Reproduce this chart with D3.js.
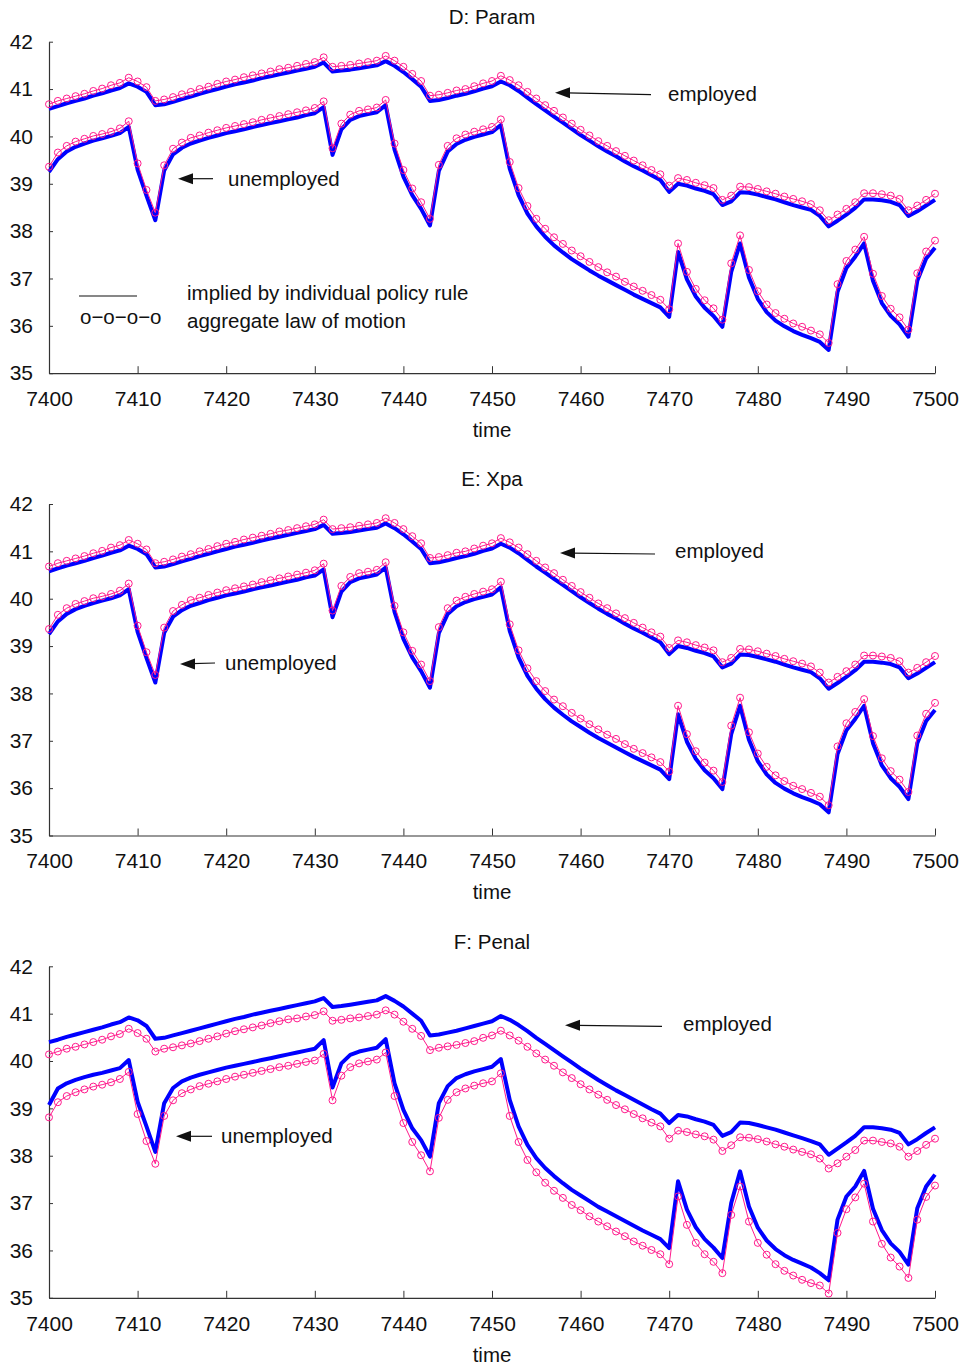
<!DOCTYPE html>
<html>
<head>
  <meta charset="utf-8">
  <title>Employed / unemployed: individual rule vs aggregate law of motion</title>
  <script src="https://d3js.org/d3.v7.min.js"></script>
  <style>
    body { margin: 0; background: #fff; }
    text { font-family: "Liberation Sans", Arial, sans-serif; fill: #111; }
    .axis path, .axis line { stroke: #333; }
  </style>
</head>
<body>
<svg id="chart"></svg>
<script>
// time axis and ticks
const time = d3.range(7400, 7501);
const xTicks = [7400, 7410, 7420, 7430, 7440, 7450, 7460, 7470, 7480, 7490, 7500];
const yTicks = [35, 36, 37, 38, 39, 40, 41, 42];

// D: Param (E: Xpa is practically the same picture)
const paramEmpAgg = [
  40.68, 40.75, 40.80, 40.85, 40.90, 40.96, 41.01, 41.08, 41.13, 41.24,
  41.16, 41.04, 40.75, 40.78, 40.83, 40.89, 40.94, 41.00, 41.05, 41.11,
  41.16, 41.20, 41.25, 41.29, 41.33, 41.37, 41.42, 41.45, 41.49, 41.53,
  41.57, 41.67, 41.47, 41.49, 41.51, 41.54, 41.57, 41.60, 41.70, 41.60,
  41.47, 41.32, 41.17, 40.86, 40.88, 40.92, 40.97, 41.00, 41.06, 41.12,
  41.17, 41.28, 41.19, 41.08, 40.94, 40.80, 40.66, 40.54, 40.40, 40.27,
  40.14, 40.02, 39.90, 39.80, 39.69, 39.59, 39.49, 39.39, 39.29, 39.20,
  38.96, 39.12, 39.08, 39.02, 38.97, 38.91, 38.66, 38.75, 38.94, 38.93,
  38.89, 38.84, 38.79, 38.73, 38.68, 38.63, 38.57, 38.44, 38.23, 38.35,
  38.47, 38.61, 38.80, 38.80, 38.78, 38.75, 38.68, 38.44, 38.54, 38.66,
  38.79
];
const paramEmpInd = [
  40.58, 40.64, 40.70, 40.75, 40.80, 40.86, 40.91, 40.97, 41.02, 41.12,
  41.05, 40.94, 40.66, 40.68, 40.73, 40.79, 40.84, 40.90, 40.95, 41.00,
  41.05, 41.10, 41.14, 41.18, 41.23, 41.27, 41.31, 41.35, 41.39, 41.43,
  41.47, 41.56, 41.37, 41.39, 41.41, 41.44, 41.47, 41.50, 41.59, 41.49,
  41.36, 41.21, 41.05, 40.75, 40.77, 40.81, 40.86, 40.90, 40.95, 41.01,
  41.06, 41.16, 41.08, 40.96, 40.82, 40.68, 40.55, 40.42, 40.29, 40.16,
  40.03, 39.91, 39.79, 39.68, 39.58, 39.47, 39.37, 39.28, 39.18, 39.08,
  38.83, 39.00, 38.96, 38.90, 38.85, 38.78, 38.55, 38.63, 38.82, 38.81,
  38.77, 38.72, 38.67, 38.61, 38.55, 38.50, 38.45, 38.32, 38.10, 38.22,
  38.35, 38.49, 38.67, 38.67, 38.65, 38.62, 38.55, 38.32, 38.42, 38.54,
  38.66
];
const paramUnAgg = [
  39.36, 39.66, 39.80, 39.89, 39.95, 40.01, 40.05, 40.10, 40.17, 40.32,
  39.43, 38.87, 38.39, 39.39, 39.74, 39.87, 39.97, 40.02, 40.08, 40.13,
  40.18, 40.22, 40.26, 40.30, 40.35, 40.39, 40.43, 40.47, 40.51, 40.55,
  40.60, 40.74, 39.75, 40.27, 40.46, 40.54, 40.57, 40.61, 40.77, 39.85,
  39.29, 38.90, 38.61, 38.26, 39.40, 39.80, 39.96, 40.04, 40.10, 40.15,
  40.20, 40.36, 39.46, 38.91, 38.53, 38.26, 38.05, 37.87, 37.73, 37.59,
  37.47, 37.35, 37.24, 37.13, 37.04, 36.93, 36.83, 36.74, 36.65, 36.55,
  36.35, 37.74, 37.14, 36.78, 36.54, 36.37, 36.13, 37.32, 37.91, 37.18,
  36.73, 36.45, 36.27, 36.15, 36.05, 35.98, 35.90, 35.82, 35.64, 36.88,
  37.37, 37.61, 37.88, 37.10, 36.63, 36.36, 36.18, 35.92, 37.11, 37.57,
  37.80
];
const paramUnInd = [
  39.25, 39.52, 39.68, 39.78, 39.85, 39.91, 39.96, 40.01, 40.07, 40.20,
  39.30, 38.75, 38.23, 39.28, 39.62, 39.76, 39.85, 39.91, 39.97, 40.02,
  40.07, 40.11, 40.15, 40.20, 40.24, 40.28, 40.32, 40.36, 40.40, 40.45,
  40.49, 40.62, 39.61, 40.15, 40.35, 40.43, 40.47, 40.51, 40.66, 39.72,
  39.15, 38.76, 38.47, 38.12, 39.27, 39.68, 39.84, 39.93, 39.99, 40.04,
  40.09, 40.24, 39.32, 38.76, 38.37, 38.10, 37.88, 37.70, 37.55, 37.41,
  37.29, 37.17, 37.06, 36.96, 36.86, 36.76, 36.66, 36.57, 36.48, 36.39,
  36.19, 37.56, 36.98, 36.62, 36.38, 36.21, 35.98, 37.14, 37.74, 37.02,
  36.57, 36.29, 36.11, 35.99, 35.89, 35.81, 35.74, 35.66, 35.49, 36.72,
  37.22, 37.46, 37.74, 36.95, 36.48, 36.21, 36.03, 35.77, 36.95, 37.42,
  37.65
];

// F: Penal
const penalEmpAgg = [
  40.14, 40.20, 40.26, 40.30, 40.35, 40.40, 40.45, 40.52, 40.57, 40.68,
  40.59, 40.47, 40.20, 40.26, 40.29, 40.33, 40.37, 40.42, 40.47, 40.52,
  40.58, 40.63, 40.67, 40.71, 40.75, 40.80, 40.84, 40.88, 40.90, 40.94,
  40.97, 41.05, 40.85, 40.87, 40.90, 40.92, 40.95, 40.98, 41.07, 40.98,
  40.83, 40.68, 40.53, 40.23, 40.28, 40.31, 40.34, 40.38, 40.42, 40.49,
  40.54, 40.64, 40.54, 40.43, 40.30, 40.16, 40.03, 39.90, 39.76, 39.64,
  39.51, 39.40, 39.29, 39.18, 39.07, 38.98, 38.88, 38.79, 38.70, 38.62,
  38.36, 38.53, 38.50, 38.45, 38.41, 38.34, 38.10, 38.22, 38.39, 38.38,
  38.35, 38.30, 38.24, 38.19, 38.13, 38.08, 38.03, 37.94, 37.73, 37.84,
  37.98, 38.12, 38.32, 38.32, 38.29, 38.26, 38.19, 37.98, 38.10, 38.23,
  38.36
];
const penalEmpInd = [
  40.40, 40.45, 40.51, 40.56, 40.61, 40.66, 40.71, 40.77, 40.82, 40.92,
  40.86, 40.74, 40.47, 40.49, 40.54, 40.59, 40.64, 40.69, 40.74, 40.79,
  40.84, 40.89, 40.93, 40.98, 41.02, 41.06, 41.10, 41.14, 41.18, 41.22,
  41.26, 41.33, 41.14, 41.16, 41.19, 41.22, 41.25, 41.28, 41.37, 41.27,
  41.15, 41.00, 40.85, 40.54, 40.56, 40.60, 40.64, 40.69, 40.74, 40.79,
  40.84, 40.95, 40.87, 40.76, 40.63, 40.49, 40.36, 40.23, 40.10, 39.97,
  39.84, 39.72, 39.60, 39.49, 39.38, 39.28, 39.18, 39.08, 38.98, 38.89,
  38.69, 38.86, 38.83, 38.77, 38.72, 38.65, 38.42, 38.50, 38.70, 38.69,
  38.65, 38.60, 38.55, 38.49, 38.43, 38.37, 38.31, 38.24, 38.02, 38.15,
  38.28, 38.42, 38.60, 38.60, 38.58, 38.55, 38.48, 38.24, 38.35, 38.48,
  38.60
];
const penalUnAgg = [
  38.81, 39.13, 39.26, 39.34, 39.40, 39.46, 39.50, 39.55, 39.62, 39.77,
  38.88, 38.31, 37.83, 38.84, 39.17, 39.32, 39.40, 39.47, 39.52, 39.57,
  39.62, 39.67, 39.71, 39.75, 39.79, 39.83, 39.87, 39.90, 39.94, 39.98,
  40.01, 40.15, 39.17, 39.69, 39.87, 39.95, 39.99, 40.03, 40.18, 39.26,
  38.69, 38.29, 38.01, 37.67, 38.80, 39.18, 39.34, 39.42, 39.48, 39.53,
  39.57, 39.74, 38.84, 38.29, 37.91, 37.65, 37.43, 37.26, 37.11, 36.96,
  36.85, 36.72, 36.61, 36.51, 36.40, 36.30, 36.19, 36.10, 36.01, 35.92,
  35.71, 37.14, 36.54, 36.16, 35.92, 35.76, 35.52, 36.75, 37.35, 36.61,
  36.16, 35.91, 35.71, 35.57, 35.47, 35.38, 35.31, 35.26, 35.09, 36.37,
  36.87, 37.12, 37.41, 36.61, 36.14, 35.85, 35.66, 35.42, 36.65, 37.13,
  37.37
];
const penalUnInd = [
  39.07, 39.42, 39.53, 39.60, 39.66, 39.71, 39.75, 39.80, 39.85, 40.02,
  39.14, 38.62, 38.08, 39.11, 39.43, 39.57, 39.65, 39.71, 39.76, 39.81,
  39.86, 39.90, 39.94, 39.98, 40.02, 40.06, 40.10, 40.14, 40.18, 40.22,
  40.26, 40.44, 39.44, 39.95, 40.13, 40.20, 40.24, 40.28, 40.46, 39.53,
  38.97, 38.58, 38.33, 37.98, 39.11, 39.47, 39.64, 39.72, 39.78, 39.83,
  39.88, 40.04, 39.18, 38.62, 38.23, 37.95, 37.74, 37.57, 37.42, 37.28,
  37.16, 37.04, 36.92, 36.82, 36.72, 36.62, 36.52, 36.42, 36.33, 36.24,
  36.05, 37.46, 36.86, 36.49, 36.24, 36.06, 35.84, 37.00, 37.67, 36.93,
  36.48, 36.21, 36.03, 35.90, 35.80, 35.72, 35.64, 35.52, 35.37, 36.65,
  37.14, 37.35, 37.68, 36.88, 36.43, 36.15, 35.97, 35.70, 36.89, 37.35,
  37.60
];

// panel setup (annotation offsets are pixels relative to the panel's top)
const panels = [
  {title: "D: Param", empInd: paramEmpInd, empAgg: paramEmpAgg, unInd: paramUnInd, unAgg: paramUnAgg,
   legend: true, emp: {x1: 555, y1: 51, x2: 651, y2: 53, tx: 668, ty: 52},
   un: {x1: 178, y1: 137, x2: 213, y2: 137, tx: 228, ty: 137}},
  {title: "E: Xpa", empInd: paramEmpInd, empAgg: paramEmpAgg, unInd: paramUnInd, unAgg: paramUnAgg,
   legend: false, emp: {x1: 560, y1: 49, x2: 655, y2: 50, tx: 675, ty: 47},
   un: {x1: 180, y1: 160, x2: 215, y2: 159, tx: 225, ty: 159}},
  {title: "F: Penal", empInd: penalEmpInd, empAgg: penalEmpAgg, unInd: penalUnInd, unAgg: penalUnAgg,
   legend: false, emp: {x1: 565, y1: 59, x2: 662, y2: 60, tx: 683, ty: 58},
   un: {x1: 176, y1: 170, x2: 212, y2: 170, tx: 221, ty: 170}}
];

const W = 962, H = 1365;
const left = 49, plotW = 886, plotH = 331.5, top0 = 41.7, step = 462.3;
const blue = "#0000ff", pink = "#ff1a8c";
const fs = "20.5px";

const svg = d3.select("#chart").attr("width", W).attr("height", H);
svg.append("rect").attr("width", W).attr("height", H).attr("fill", "#fff");

const x = d3.scaleLinear().domain([7400, 7500]).range([0, plotW]);
const y = d3.scaleLinear().domain([35, 42]).range([plotH, 0]);

const line = d3.line().x((d, i) => x(time[i])).y(d => y(d));

function arrow(g, a) {
  g.append("line")
    .attr("x1", a.x1 + 12).attr("y1", a.y1 + (a.y2 - a.y1) * 12 / (a.x2 - a.x1))
    .attr("x2", a.x2).attr("y2", a.y2)
    .attr("stroke", "#111").attr("stroke-width", 1.2);
  g.append("path")
    .attr("d", `M${a.x1},${a.y1}L${a.x1 + 15},${a.y1 - 5.5}L${a.x1 + 15},${a.y1 + 5.5}Z`)
    .attr("fill", "#111");
}

panels.forEach((p, k) => {
  const g = svg.append("g").attr("transform", `translate(${left},${top0 + k * step})`);

  g.append("text").attr("x", 492 - left).attr("y", -24.7).attr("dy", "0.35em")
    .attr("text-anchor", "middle").style("font-size", fs).text(p.title);

  g.append("g").attr("class", "axis")
    .call(d3.axisLeft(y).tickValues(yTicks).tickFormat(d3.format("d"))
      .tickSizeInner(-4).tickSizeOuter(0).tickPadding(16))
    .call(s => s.selectAll("text").style("font-size", "21px").attr("fill", "#111"));

  g.append("g").attr("class", "axis").attr("transform", `translate(0,${plotH})`)
    .call(d3.axisBottom(x).tickValues(xTicks).tickFormat(d3.format("d"))
      .tickSizeInner(-7).tickSizeOuter(0).tickPadding(18))
    .call(s => s.selectAll("text").style("font-size", "21px").attr("fill", "#111"));

  g.selectAll(".axis .domain").attr("stroke-width", 1.2);

  g.append("text").attr("x", x(7450)).attr("y", 388.3).attr("dy", "0.35em")
    .attr("text-anchor", "middle").style("font-size", fs).text("time");

  // individual policy rule (thick blue), then aggregate law (pink with circles)
  [p.empInd, p.unInd].forEach(s => {
    g.append("path").datum(s).attr("d", line)
      .attr("fill", "none").attr("stroke", blue).attr("stroke-width", 4)
      .attr("stroke-linejoin", "round");
  });
  [p.empAgg, p.unAgg].forEach(s => {
    g.append("path").datum(s).attr("d", line)
      .attr("fill", "none").attr("stroke", pink).attr("stroke-width", 1);
    g.append("g").selectAll("circle").data(s).join("circle")
      .attr("cx", (d, i) => x(time[i])).attr("cy", d => y(d)).attr("r", 3.5)
      .attr("fill", "none").attr("stroke", pink).attr("stroke-width", 1);
  });

  arrow(g, {x1: p.emp.x1 - left, y1: p.emp.y1, x2: p.emp.x2 - left, y2: p.emp.y2});
  g.append("text").attr("x", p.emp.tx - left).attr("y", p.emp.ty).attr("dy", "0.35em")
    .style("font-size", fs).text("employed");
  arrow(g, {x1: p.un.x1 - left, y1: p.un.y1, x2: p.un.x2 - left, y2: p.un.y2});
  g.append("text").attr("x", p.un.tx - left).attr("y", p.un.ty).attr("dy", "0.35em")
    .style("font-size", fs).text("unemployed");

  if (p.legend) {
    g.append("line").attr("x1", 79 - left).attr("x2", 137 - left)
      .attr("y1", 296 - top0).attr("y2", 296 - top0).attr("stroke", "#111").attr("stroke-width", 1.2);
    g.append("text").attr("x", 80 - left).attr("y", 318 - top0).attr("dy", "0.3em")
      .style("font-size", fs).text("o\u2212o\u2212o\u2212o");
    g.append("text").attr("x", 187 - left).attr("y", 293 - top0).attr("dy", "0.35em")
      .style("font-size", fs).text("implied by individual policy rule");
    g.append("text").attr("x", 187 - left).attr("y", 321 - top0).attr("dy", "0.35em")
      .style("font-size", fs).text("aggregate law of motion");
  }
});
</script>
</body>
</html>
